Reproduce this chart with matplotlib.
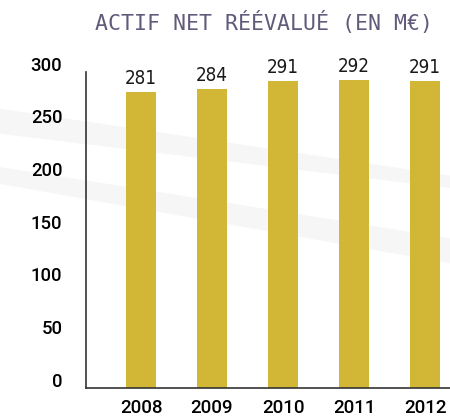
## Actif net reevalue bar chart
import matplotlib
matplotlib.use('Agg')
import matplotlib.pyplot as plt
import matplotlib.transforms as mtransforms
from matplotlib.patches import Polygon

## Data
years = ['2008', '2009', '2010', '2011', '2012']
values = [281, 284, 291, 292, 291]
yticks = [0, 50, 100, 150, 200, 250, 300]
title = 'ACTIF NET RÉÉVALUÉ (EN M€)'

bar_color = '#d2b737'
title_color = '#615a7b'

fig = plt.figure(figsize=(4.5, 4.18), dpi=100)
fig.patch.set_facecolor('white')

## Faint grey swooshes in the background
band1 = Polygon([(0, 0.74), (1, 0.58), (1, 0.55), (0, 0.68)],
    closed=True, transform=fig.transFigure, facecolor='#f6f6f6',
    edgecolor='none', zorder=0)
band2 = Polygon([(0, 0.56), (1, 0.37), (1, 0.43), (0.3, 0.55), (0, 0.60)],
    closed=True, transform=fig.transFigure, facecolor='#f6f6f6',
    edgecolor='none', zorder=0)
fig.patches.extend([band1, band2])

ax = fig.add_axes([0.191, 0.0718, 0.809, 0.756])
ax.set_facecolor('none')
ax.set_zorder(2)

x = list(range(len(years)))
ax.bar(x, values, width=0.42, color=bar_color, zorder=2)

ax.set_xlim(-0.775, 4.35)
ax.set_ylim(0, 300)

## Value labels above bars
for xi, v in zip(x, values):
    ax.annotate(str(v), (xi, v), xytext=(0, 3), textcoords='offset points',
        ha='center', va='bottom', fontsize=13.5, fontstretch='condensed',
        family=['DejaVu Sans'], color='#1a1a1a')

## Axes styling
for s in ['top', 'right']:
    ax.spines[s].set_visible(False)
ax.spines['left'].set_color('#333333')
ax.spines['bottom'].set_color('#333333')
ax.spines['left'].set_linewidth(1.2)
ax.spines['bottom'].set_linewidth(1.2)

ax.set_yticks(yticks)
ax.set_yticklabels([str(t) for t in yticks], fontsize=13.3,
    family=['Roboto', 'DejaVu Sans'], fontweight='medium', color='black')
ax.tick_params(axis='y', length=0, pad=17)
offset = mtransforms.ScaledTranslation(0, 6 / 72, fig.dpi_scale_trans)
for lab in ax.get_yticklabels():
    lab.set_transform(lab.get_transform() + offset)

ax.set_xticks(x)
ax.set_xticklabels(years, fontsize=13.5,
    family=['Roboto', 'DejaVu Sans'], fontweight='medium', color='black')
ax.tick_params(axis='x', length=0, pad=8)

## Title
fig.text(0.587, 0.945, title, ha='center', va='center', fontsize=15.5,
    family='DejaVu Sans Mono', color=title_color)

fig.savefig('out.png', dpi=100)
